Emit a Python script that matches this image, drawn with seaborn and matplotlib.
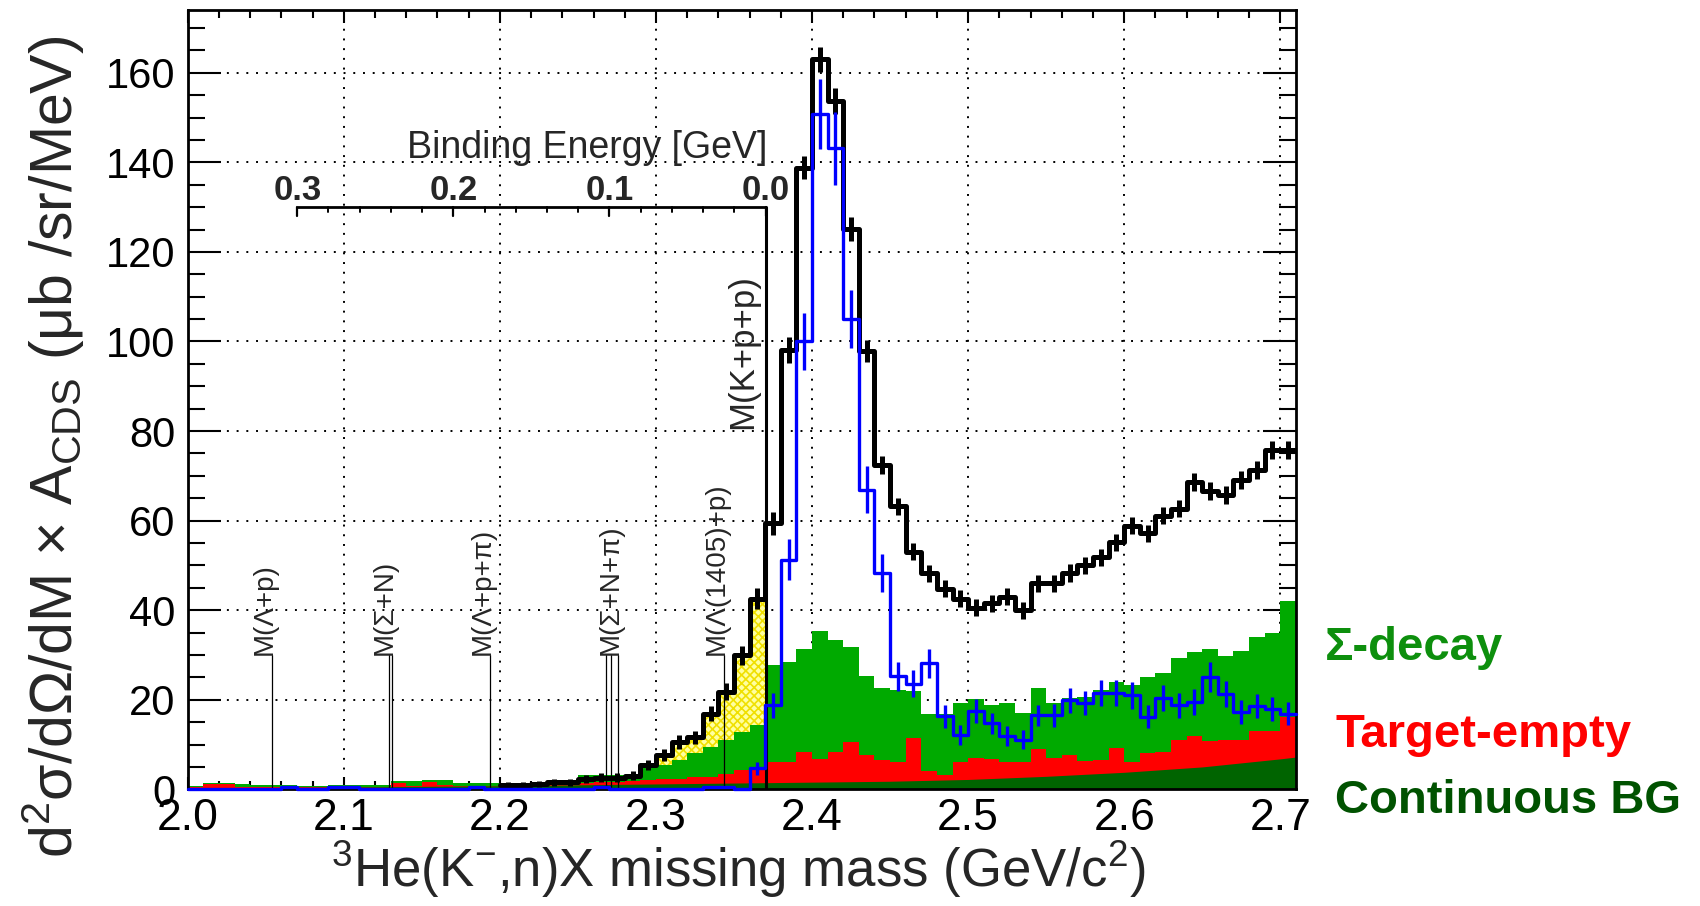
import numpy as np
import pandas as pd
import matplotlib
matplotlib.use("Agg")
import matplotlib.pyplot as plt
from matplotlib.ticker import MultipleLocator, FormatStrFormatter
import seaborn as sns

# ---------------------------------------------------------------------------
# Binning: 10 MeV/c^2 bins over the missing-mass window
# ---------------------------------------------------------------------------
mass_lo, mass_hi, bin_w = 2.00, 2.71, 0.01
edges = np.round(np.arange(mass_lo, mass_hi + bin_w / 2, bin_w), 3)
centers = edges[:-1] + bin_w / 2

# Background-subtracted spectrum (blue), one value per bin from 2.00
signal_vals = [
    0.1, 0.1, 0.1, 0.1, 0.1, 0.1, 0.5, 0.1, 0.1, 0.5,   # 2.00-2.09
    0.5, 0.1, 0.1, 0.1, 0.1, 0.1, 0.1, 0.1, 0.5, 0.1,   # 2.10-2.19
    0.1, 0.1, 0.1, 0.1, 0.1, 0.1, 0.5, 0.1, 0.1, 0.1,   # 2.20-2.29
    0.1, 0.1, 0.1, 0.5, 0.5, 0.1, 4.7, 18.8, 51.3, 100.0,  # 2.30-2.39
    150.8, 143.1, 105.0, 66.9, 48.3, 25.2, 23.6, 28.1, 16.3, 12.1,  # 2.40-2.49
    17.5, 14.7, 11.9, 11.1, 16.5, 16.5, 19.9, 19.3, 21.5, 21.5,   # 2.50-2.59
    21.0, 16.2, 20.3, 18.8, 19.5, 25.1, 21.3, 17.3, 18.6, 18.0,   # 2.60-2.69
    16.9,                                                         # 2.70
]
signal_errs = [0.0] * 36 + [
    1.5, 2.8, 4.6, 6.3,                                  # 2.36-2.39
    7.9, 8.2, 6.5, 5.2, 4.3, 3.2, 3.0, 3.3, 2.5, 2.2,    # 2.40-2.49
    2.6, 2.4, 2.3, 2.1, 2.4, 2.5, 2.8, 2.7, 3.0, 3.0,    # 2.50-2.59
    3.0, 2.6, 2.9, 2.8, 2.9, 3.3, 2.9, 2.7, 2.7, 2.7,    # 2.60-2.69
    2.6,                                                 # 2.70
]

# Upper edge of the stacked Sigma-decay band (green)
sigma_top = [
    0.8, 1.3, 1.3, 1.2, 1.0, 1.0, 0.9, 0.8, 0.8, 1.0,
    1.0, 1.0, 0.9, 1.8, 1.8, 2.0, 2.0, 1.5, 1.5, 1.4,
    1.2, 1.2, 1.3, 1.6, 1.6, 3.2, 3.2, 3.2, 3.3, 5.1,
    5.4, 6.5, 8.0, 9.5, 11.0, 12.8, 14.3, 27.7, 28.5, 31.4,
    35.3, 33.3, 31.8, 25.3, 22.6, 22.2, 22.0, 16.9, 16.9, 19.2,
    20.1, 18.8, 19.2, 17.1, 22.7, 19.2, 20.3, 20.7, 22.2, 24.0,
    23.3, 25.1, 25.9, 29.4, 30.7, 31.4, 29.7, 30.9, 33.9, 34.8,
    42.1,
]

# Upper edge of the stacked target-empty band (red)
empty_top = [
    0.5, 1.2, 1.2, 0.6, 0.5, 0.5, 0.5, 0.5, 0.5, 0.5,
    0.5, 0.5, 0.6, 1.5, 0.8, 1.7, 0.9, 0.8, 0.8, 0.8,
    1.0, 0.9, 1.0, 1.1, 1.2, 1.4, 1.6, 1.7, 1.8, 2.0,
    2.4, 2.4, 2.8, 2.8, 3.5, 4.3, 4.6, 6.1, 6.1, 8.3,
    6.8, 8.3, 10.5, 7.6, 6.5, 6.2, 11.4, 4.1, 3.2, 6.0,
    7.1, 6.7, 6.2, 6.0, 9.0, 7.1, 7.7, 6.3, 6.5, 9.3,
    6.0, 8.0, 8.4, 11.1, 12.0, 10.8, 11.1, 11.0, 13.0, 13.0,
    16.2,
]

# Inclusive spectrum (black), bins from 2.20 on
incl_start = 2.20
incl_vals = [
    1.0, 1.0, 1.2, 1.6, 1.6, 2.2, 2.6, 2.6, 3.0, 5.4,            # 2.20-2.29
    7.6, 10.6, 11.6, 16.9, 21.8, 29.9, 42.6, 59.4, 98.0, 138.8,  # 2.30-2.39
    163.0, 153.7, 125.1, 97.9, 72.5, 63.2, 53.0, 48.2, 44.8, 42.5,  # 2.40-2.49
    40.5, 41.5, 43.0, 40.0, 46.0, 46.0, 48.3, 50.0, 51.8, 55.2,  # 2.50-2.59
    58.9, 57.2, 61.1, 62.6, 68.6, 66.7, 65.8, 69.1, 71.4, 75.7,  # 2.60-2.69
    75.7,                                                        # 2.70
]
incl_errs = [
    0.6, 0.6, 0.7, 0.8, 0.8, 0.9, 1.0, 1.0, 1.0, 1.2,
    1.3, 1.5, 1.5, 1.7, 1.9, 2.1, 2.4, 2.6, 2.9, 2.6,
    2.8, 2.8, 2.6, 2.4, 2.0, 1.9, 1.9, 1.9, 1.9, 1.9,
    1.9, 1.9, 1.9, 1.9, 1.9, 1.9, 1.9, 1.9, 1.9, 1.9,
    1.9, 1.9, 1.9, 1.9, 2.0, 2.0, 2.0, 2.0, 2.0, 2.0,
    2.0,
]

# Smooth continuous background (dark green)
cont_mass = [2.00, 2.10, 2.20, 2.30, 2.40, 2.45, 2.50, 2.55, 2.60, 2.65, 2.70, 2.71]
cont_vals = [0.3, 0.5, 0.8, 1.2, 1.6, 1.8, 2.2, 2.9, 3.8, 5.0, 6.8, 7.2]

# Mass window of the highlighted sub-threshold excess (yellow)
excess_range = (2.29, 2.37)

# Thresholds of the decay channels (GeV/c^2)
thresholds = [
    ("M(Λ+p)", [2.0540]),
    ("M(Σ+N)", [2.1290, 2.1309]),
    ("M(Λ+p+π)", [2.1936]),
    ("M(Σ+N+π)", [2.2680, 2.2712, 2.2757]),
    ("M(Λ(1405)+p)", [2.3433]),
]
threshold_top = 30.0
kpp_threshold = 2.3702
kpp_label = "M(K+p+p)"

# Binding-energy scale relative to the K+p+p threshold
be_major = [0.0, 0.1, 0.2, 0.3]
be_minor = [0.02, 0.04, 0.06, 0.08, 0.12, 0.14, 0.16, 0.18,
            0.22, 0.24, 0.26, 0.28]
be_axis_y = 130.0

component_labels = ["Σ-decay", "Target-empty", "Continuous BG"]
component_colors = ["#0d8f0d", "#ff0000", "#005200"]

# ---------------------------------------------------------------------------
sns.set_theme(style="white")
plt.rcParams["font.family"] = ["Liberation Sans", "DejaVu Sans"]
plt.rcParams["mathtext.fontset"] = "custom"
plt.rcParams["mathtext.rm"] = "Liberation Sans"
plt.rcParams["mathtext.it"] = "Liberation Sans:italic"
plt.rcParams["mathtext.bf"] = "Liberation Sans:bold"
plt.rcParams["hatch.linewidth"] = 1.2

bins_df = pd.DataFrame({"mass": centers, "sigma": sigma_top, "empty": empty_top})
bin_list = [float(e) for e in edges]

fig = plt.figure(figsize=(17, 9.06), dpi=100)
ax = fig.add_axes([0.1104, 0.1288, 0.6519, 0.8601])

# stacked backgrounds
sns.histplot(data=bins_df, x="mass", weights="sigma", bins=bin_list, element="step",
             fill=True, color="#00aa00", alpha=1, linewidth=0, ax=ax, zorder=1.0)
sns.histplot(data=bins_df, x="mass", weights="empty", bins=bin_list, element="step",
             fill=True, color="#ff0000", alpha=1, linewidth=0, ax=ax, zorder=1.1)
ax.fill_between(cont_mass, 0, cont_vals, color="#006400", linewidth=0, zorder=1.2)

# inclusive spectrum arrays
incl_arr = np.asarray(incl_vals)
incl_edges = edges[edges >= incl_start - 1e-9]
incl_centers = incl_edges[:-1] + bin_w / 2

# yellow excess between the green stack and the inclusive spectrum
sel = (incl_edges[:-1] >= excess_range[0] - 1e-9) & (incl_edges[:-1] < excess_range[1] - 1e-9)
i0 = int(np.argmax(sel))
n_sel = int(sel.sum())
ex_edges = incl_edges[i0:i0 + n_sel + 1]
ex_top = np.append(incl_arr[sel], incl_arr[sel][-1])
g_idx = np.searchsorted(np.round(edges, 3), np.round(ex_edges[:-1], 3))
sig_arr = np.asarray(sigma_top)
ex_bot = np.append(sig_arr[g_idx], sig_arr[g_idx][-1])
ax.fill_between(ex_edges, ex_bot, ex_top, step="post", facecolor="#ffffa0",
                edgecolor="#f0e000", hatch="xxxx", linewidth=0, zorder=1.3)

# threshold markers
for label, xs in thresholds:
    for xv in xs:
        ax.plot([xv, xv], [0, threshold_top], color="black", lw=0.9, zorder=2)
    ax.text(max(xs), threshold_top, label, rotation=90, rotation_mode="anchor",
            ha="left", va="baseline", fontsize=20, zorder=2)

# binding-energy axis
be_x = [kpp_threshold - b for b in be_major]
ax.plot([min(be_x), max(be_x)], [be_axis_y, be_axis_y], color="black", lw=2, zorder=2,
        solid_capstyle="butt")
ax.plot([kpp_threshold, kpp_threshold], [0, be_axis_y], color="black", lw=2.2, zorder=2)
for b in be_major:
    xv = kpp_threshold - b
    ax.plot([xv, xv], [be_axis_y, be_axis_y - 1.9], color="black", lw=1.6, zorder=2)
    ax.text(xv, be_axis_y + 1.6, f"{b:.1f}", ha="center", va="baseline",
            fontsize=25, fontweight="bold", zorder=2)
for b in be_minor:
    xv = kpp_threshold - b
    ax.plot([xv, xv], [be_axis_y, be_axis_y - 1.0], color="black", lw=1.4, zorder=2)
ax.text(kpp_threshold - 0.114, 141, "Binding Energy [GeV]", ha="center",
        va="baseline", fontsize=27, zorder=2)
ax.text(kpp_threshold - 0.0087, 80.5, kpp_label, rotation=90, rotation_mode="anchor",
        ha="left", va="baseline", fontsize=25, zorder=2)

# inclusive spectrum (black)
incl_df = pd.DataFrame({"edge": incl_edges, "value": np.append(incl_arr, incl_arr[-1])})
sns.lineplot(data=incl_df, x="edge", y="value", drawstyle="steps-post",
             color="black", linewidth=3.6, estimator=None, sort=False, ax=ax, zorder=3)
ax.errorbar(incl_centers, incl_arr, yerr=incl_errs, fmt="none", ecolor="black",
            elinewidth=3.6, capsize=0, zorder=3)

# background-subtracted spectrum (blue)
sig_vals = np.asarray(signal_vals)
sig_df = pd.DataFrame({"edge": edges, "value": np.append(sig_vals, sig_vals[-1])})
sns.lineplot(data=sig_df, x="edge", y="value", drawstyle="steps-post",
             color="#0000ff", linewidth=2.4, estimator=None, sort=False, ax=ax, zorder=4)
ax.lines[-1].set_clip_on(False)
sig_errs = np.asarray(signal_errs)
has_err = sig_errs > 0
ax.errorbar(centers[has_err], sig_vals[has_err], yerr=sig_errs[has_err], fmt="none",
            ecolor="#0000ff", elinewidth=2.4, capsize=0, zorder=4)

# axes styling
ax.set_xlim(mass_lo, mass_hi)
ax.set_ylim(0, 174)
ax.xaxis.set_major_locator(MultipleLocator(0.1))
ax.xaxis.set_minor_locator(MultipleLocator(0.02))
ax.xaxis.set_major_formatter(FormatStrFormatter("%.1f"))
ax.yaxis.set_major_locator(MultipleLocator(20))
ax.yaxis.set_minor_locator(MultipleLocator(5))
ax.grid(True, which="major", color="black", linestyle=(0, (1, 4)), linewidth=1.4)
ax.set_axisbelow(True)
for sp in ax.spines.values():
    sp.set_linewidth(2.0)
    sp.set_color("black")
    sp.set_visible(True)
ax.tick_params(axis="both", which="both", direction="in", top=True, right=True,
               bottom=True, left=True, colors="black", width=1.5)
ax.tick_params(axis="x", which="major", length=9, pad=6, labelsize=32)
ax.tick_params(axis="x", which="minor", length=6)
ax.tick_params(axis="y", which="major", length=24, pad=9, labelsize=30)
ax.tick_params(axis="y", which="minor", length=12)

ax.set_xlabel(r"$^{3}$He(K$^{-}$,n)X missing mass (GeV/c$^{2}$)", fontsize=38)
ax.xaxis.label.set_va("baseline")
ax.xaxis.set_label_coords(0.4965, -0.126)
ax.set_ylabel(r"d$^{2}$σ/dΩ/dM × A$_{\mathrm{CDS}}$ (μb /sr/MeV)", fontsize=42.5)
ax.yaxis.set_label_coords(-0.091, 0.439)

# component labels to the right of the frame
fig.text(0.7794, 0.2715, component_labels[0], color=component_colors[0],
         fontsize=34, fontweight="bold", ha="left", va="baseline")
fig.text(0.7853, 0.1758, component_labels[1], color=component_colors[1],
         fontsize=34, fontweight="bold", ha="left", va="baseline")
fig.text(0.7853, 0.1026, component_labels[2], color=component_colors[2],
         fontsize=34, fontweight="bold", ha="left", va="baseline")

fig.savefig("out.png", dpi=100)
